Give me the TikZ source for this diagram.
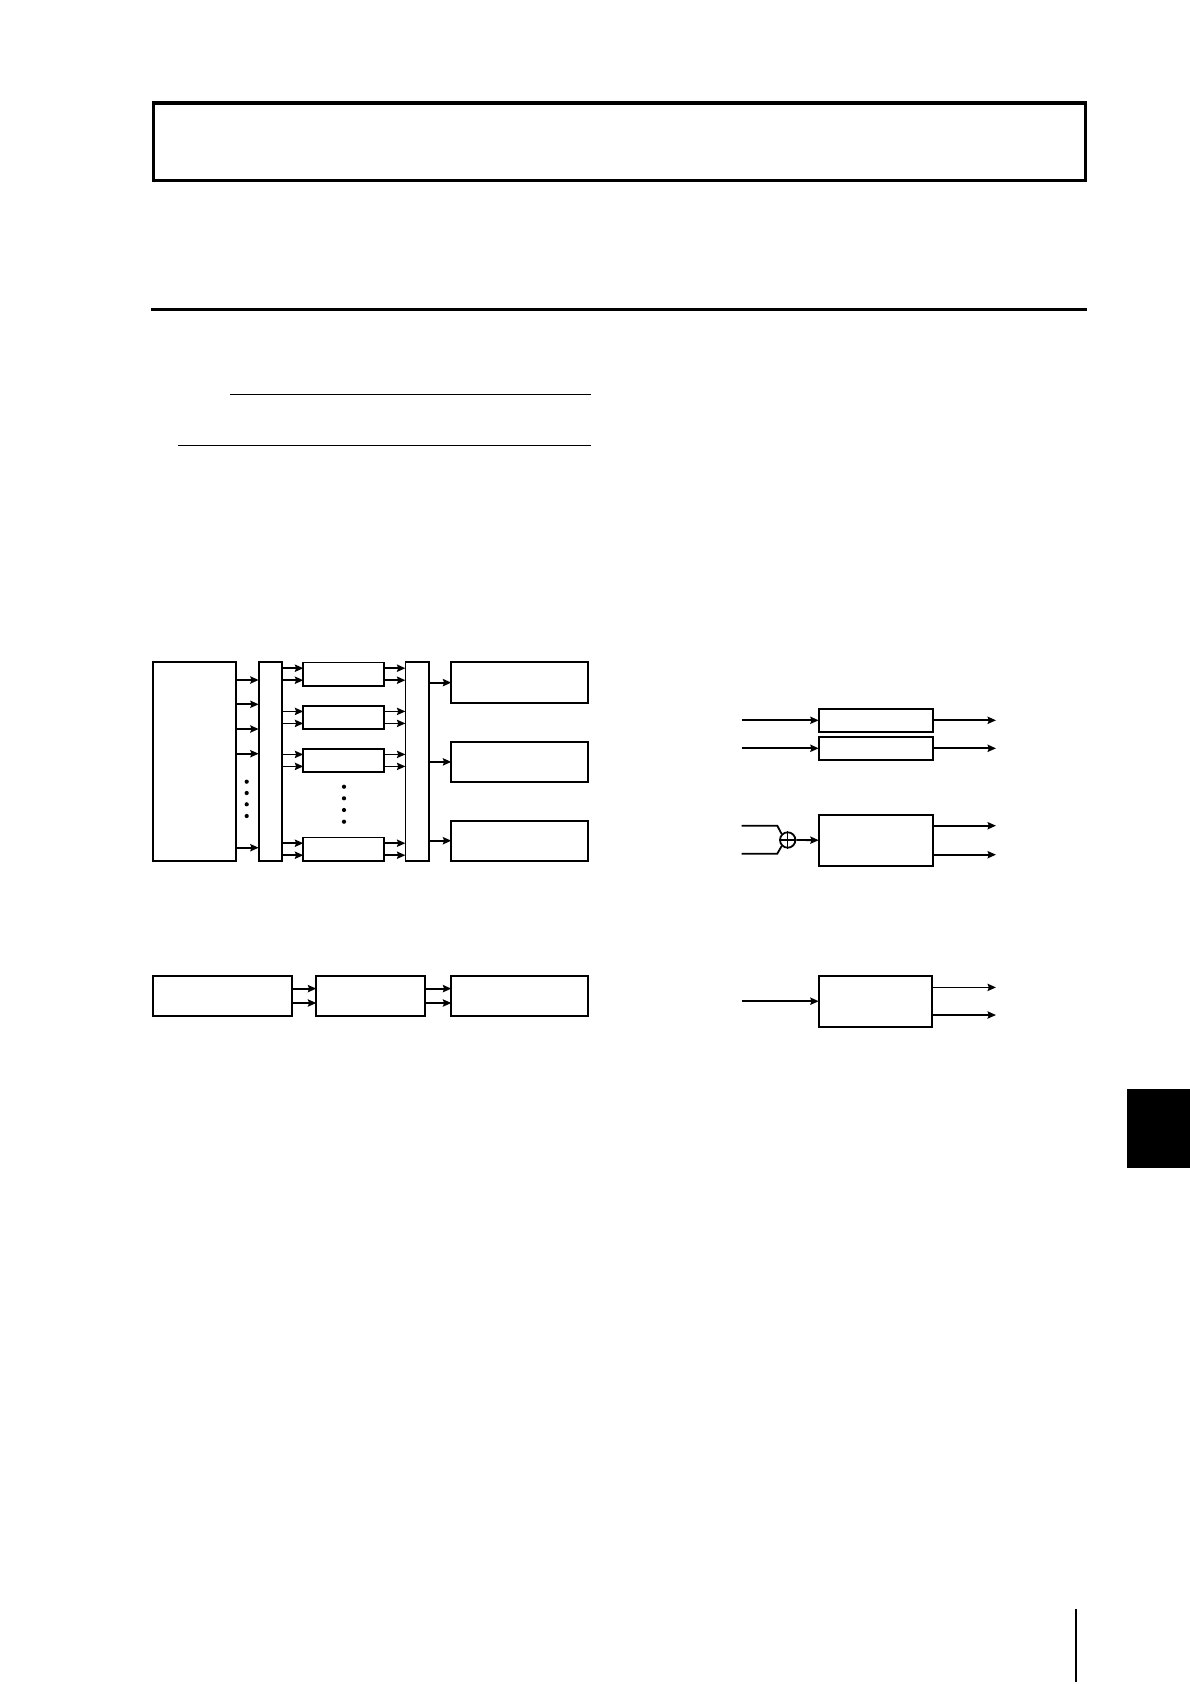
\documentclass[tikz,border=0pt]{standalone}
\usetikzlibrary{arrows.meta}
\begin{document}
\begin{tikzpicture}[x=0.5bp,y=-0.5bp,
  blk/.style 2 args={draw, line width=0.9bp, inner sep=0pt, outer sep=0pt, minimum width=#1*0.5bp, minimum height=#2*0.5bp},
  arr/.style={line width=0.9bp, -{Stealth[length=4.2bp,width=3.6bp,inset=0.6bp]}},
  ln/.style={line width=0.9bp},
  dotm/.style={fill=black},
]
\fill[white] (0,0) rectangle (1190,1684);
\useasboundingbox (0,0) rectangle (1190,1684);

% header box and rules
\node[draw, line width=1.65bp, inner sep=0pt, minimum width=932.2*0.5bp, minimum height=77.4*0.5bp] (hdr) at (619.7,141.7) {};
\draw[line width=1.5bp] (151.4,309.3) -- (1087,309.3);
\draw[line width=0.7bp] (229.8,394.2) -- (590.7,394.2);
\draw[line width=0.7bp] (178.3,445.7) -- (590.7,445.7);

% left diagram
\node[blk={83}{199}] (L) at (194.5,761.5) {};
\node[blk={23.6}{199}] (C1) at (270.5,761.5) {};
\node[blk={81}{23.5}] (S1) at (343.8,674.2) {};
\node[blk={81}{23.5}] (S2) at (343.8,717.4) {};
\node[blk={81}{23.5}] (S3) at (343.8,760.4) {};
\node[blk={81}{23.5}] (S4) at (343.8,849.2) {};
\node[blk={23.6}{199}] (C2) at (417.2,761.5) {};
\node[blk={137}{40.7}] (R1) at (519.8,682.6) {};
\node[blk={137}{40.3}] (R2) at (519.8,761.9) {};
\node[blk={137}{40}] (R3) at (519.8,840.7) {};

\foreach \yy/\nn in {680/l1,704.3/l2,729/l3,753.7/l4,847.7/l5}{
  \coordinate (\nn) at (236,\yy);
  \draw[arr] (\nn) -- (\nn -| C1.west);
}
\foreach \s in {S1,S2,S3,S4}{
  \draw[arr, transform canvas={yshift=3bp}] (C1.east |- \s.west) -- (\s.west);
  \draw[arr, transform canvas={yshift=-3bp}] (C1.east |- \s.west) -- (\s.west);
  \draw[arr, transform canvas={yshift=3bp}] (\s.east) -- (\s.east -| C2.west);
  \draw[arr, transform canvas={yshift=-3bp}] (\s.east) -- (\s.east -| C2.west);
}
\foreach \r in {R1,R2,R3}{
  \draw[arr] (C2.east |- \r.west) -- (\r.west);
}
\foreach \yy in {781.7,793,804.3,816}{ \fill[dotm] (246.7,\yy) circle[radius=2.1]; }
\foreach \yy in {786.7,798.3,810,821.7}{ \fill[dotm] (344,\yy) circle[radius=2.1]; }

% bottom left chain
\node[blk={138.4}{40.3}] (B1) at (222.5,995.8) {};
\node[blk={109}{40.3}] (B2) at (370.8,995.8) {};
\node[blk={137}{40.3}] (B3) at (519.8,995.8) {};
\foreach \a/\b in {B1/B2,B2/B3}{
  \draw[arr, transform canvas={yshift=3.6bp}] (\a.east) -- (\b.west);
  \draw[arr, transform canvas={yshift=-3.6bp}] (\a.east) -- (\b.west);
}

% right: two thin blocks
\node[blk={114.6}{23.3}] (T1) at (876,720.3) {};
\node[blk={114.6}{23.3}] (T2) at (876,748.3) {};
\coordinate (i1) at (741.7,720.3);
\coordinate (i2) at (741.7,748.3);
\coordinate (o1) at (996,720.3);
\coordinate (o2) at (996,748.3);
\draw[arr] (i1) -- (T1.west);
\draw[arr] (i2) -- (T2.west);
\draw[arr] (T1.east) -- (o1);
\draw[arr] (T2.east) -- (o2);

% right: summing block
\node[blk={114.3}{51}] (T3) at (875.9,840.2) {};
\node[draw, circle, line width=0.9bp, inner sep=0pt, minimum size=15.4*0.5bp] (sum) at (787.7,840) {};
\draw[line width=0.6bp] (sum.north) -- (sum.south) (sum.west) -- (sum.east);
\coordinate (j1) at (741.7,825.7);
\coordinate (j2) at (741.7,853.7);
\draw[ln] (j1) -- ++(35.6,0) -- (sum.north west);
\draw[ln] (j2) -- ++(35.6,0) -- (sum.south west);
\draw[arr] (sum.east) -- (T3.west);
\coordinate (o3) at (996,840.2);
\draw[arr, transform canvas={yshift=7.25bp}] (T3.east) -- (o3);
\draw[arr, transform canvas={yshift=-7.25bp}] (T3.east) -- (o3);

% right: single input block
\node[blk={113.6}{51}] (T4) at (875.5,1001.2) {};
\coordinate (i4) at (741.7,1001.2);
\coordinate (o4) at (996,1001.2);
\draw[arr] (i4) -- (T4.west);
\draw[arr, transform canvas={yshift=6.9bp}] (T4.east) -- (o4);
\draw[arr, transform canvas={yshift=-6.9bp}] (T4.east) -- (o4);

% page tab and margin line
\fill (1126.7,1089) rectangle (1190,1168);
\draw[line width=1bp] (1075.7,1609) -- (1075.7,1682);
\end{tikzpicture}
\end{document}
